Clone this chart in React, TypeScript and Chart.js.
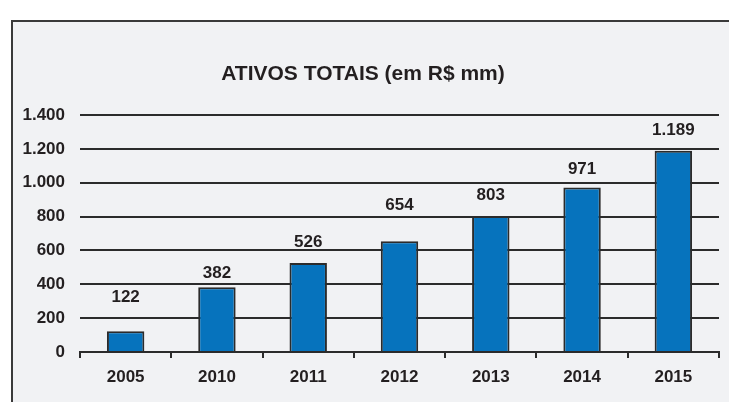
import React, { useEffect, useRef } from "react";
import { Chart, registerables } from "chart.js";

Chart.register(...registerables);

const TITLE = "ATIVOS TOTAIS (em R$ mm)";
const categories = ["2005", "2010", "2011", "2012", "2013", "2014", "2015"];
const values = [122, 382, 526, 654, 803, 971, 1189];
const yTicks = [0, 200, 400, 600, 800, 1000, 1200, 1400];

// style: how far above each bar top its label sits (px)
const LABEL_LIFT = [34, 14, 21, 36, 21, 18, 20];

const FONT = "'Liberation Sans', Arial, sans-serif";
const TEXT = "#231f20";
const LINE = "#2b2b2b";
const BAR = "#0673bd";
const PANEL = "#f1f2f4";

function fmt(n: number): string {
  const s = String(Math.round(n));
  return s.replace(/\B(?=(\d{3})+(?!\d))/g, ".");
}

const framePlugin = {
  id: "frame",
  beforeDraw(chart: any) {
    const ctx = chart.ctx;
    ctx.save();
    ctx.fillStyle = "#ffffff";
    ctx.fillRect(0, 0, chart.width, chart.height);
    ctx.fillStyle = PANEL;
    ctx.fillRect(11, 20, chart.width, chart.height);
    ctx.strokeStyle = "#3a3a3a";
    ctx.lineWidth = 2;
    ctx.beginPath();
    ctx.moveTo(12, chart.height + 2);
    ctx.lineTo(12, 21);
    ctx.lineTo(chart.width + 2, 21);
    ctx.stroke();
    // title
    ctx.fillStyle = TEXT;
    ctx.font = `bold 21px ${FONT}`;
    ctx.textAlign = "center";
    ctx.textBaseline = "middle";
    ctx.fillText(TITLE, 363, 74);
    ctx.restore();
  },
};

const labelPlugin = {
  id: "barLabels",
  afterDatasetsDraw(chart: any) {
    const ctx = chart.ctx;
    const meta = chart.getDatasetMeta(0);
    ctx.save();
    ctx.fillStyle = TEXT;
    ctx.font = `bold 17px ${FONT}`;
    ctx.textAlign = "center";
    ctx.textBaseline = "middle";
    meta.data.forEach((el: any, i: number) => {
      ctx.fillText(fmt(values[i]), el.x, el.y - LABEL_LIFT[i]);
    });
    ctx.restore();
  },
};

export default function App() {
  const ref = useRef<HTMLCanvasElement | null>(null);
  useEffect(() => {
    document.body.style.margin = "0";
    const chart = new Chart(ref.current as HTMLCanvasElement, {
      type: "bar",
      data: {
        labels: categories,
        datasets: [
          {
            data: values,
            backgroundColor: BAR,
            borderColor: LINE,
            borderWidth: 2,
            barPercentage: 0.41,
            categoryPercentage: 1,
          },
        ],
      },
      options: {
        animation: false,
        responsive: false,
        devicePixelRatio: 1,
        layout: { padding: { left: 0, right: 10, top: 115, bottom: 0 } },
        plugins: {
          legend: { display: false },
          title: { display: false },
          tooltip: { enabled: false },
        },
        scales: {
          x: {
            offset: true,
            grid: {
              offset: true,
              drawOnChartArea: false,
              drawTicks: true,
              tickLength: 6,
              color: LINE,
              lineWidth: 2,
            },
            border: { display: true, color: LINE, width: 2 },
            ticks: {
              color: TEXT,
              font: { family: FONT, size: 17, weight: "bold" },
              padding: 9,
            },
            afterFit(scale: any) {
              scale.height = 50;
            },
          },
          y: {
            min: 0,
            max: 1400,
            afterBuildTicks(scale: any) {
              scale.ticks = yTicks.map((v) => ({ value: v }));
            },
            grid: {
              drawTicks: false,
              color: LINE,
              lineWidth: 2,
            },
            border: { display: false },
            ticks: {
              color: TEXT,
              font: { family: FONT, size: 17, weight: "bold" },
              padding: 15,
              callback: (v: any) => fmt(Number(v)),
            },
            afterFit(scale: any) {
              scale.width = 80;
            },
          },
        },
      },
      plugins: [framePlugin, labelPlugin],
    } as any);
    return () => chart.destroy();
  }, []);
  return (
    <div style={{ position: "fixed", left: 0, top: 0, width: 729, height: 402 }}>
      <canvas ref={ref} width={729} height={402} style={{ width: 729, height: 402, display: "block" }} />
    </div>
  );
}
